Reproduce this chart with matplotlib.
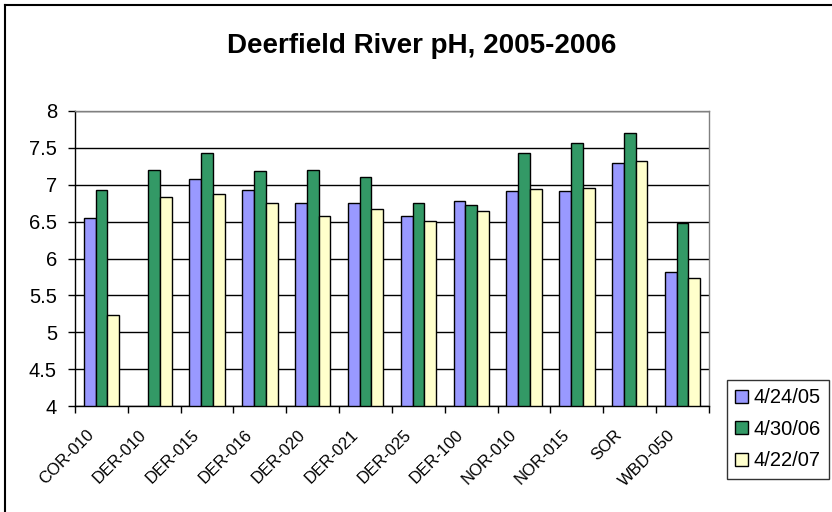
import numpy as np
import matplotlib
matplotlib.use("Agg")
import matplotlib.pyplot as plt
from matplotlib.lines import Line2D
from matplotlib.transforms import ScaledTranslation

plt.rcParams['font.family'] = ['Liberation Sans', 'DejaVu Sans']

title = "Deerfield River pH, 2005-2006"
sites = ["COR-010", "DER-010", "DER-015", "DER-016", "DER-020", "DER-021",
         "DER-025", "DER-100", "NOR-010", "NOR-015", "SOR", "WBD-050"]
series_names = ["4/24/05", "4/30/06", "4/22/07"]
ph_2005 = [6.55, np.nan, 7.08, 6.93, 6.75, 6.75, 6.58, 6.78, 6.91, 6.92, 7.30, 5.82]
ph_2006 = [6.93, 7.20, 7.43, 7.18, 7.20, 7.10, 6.75, 6.73, 7.43, 7.56, 7.70, 6.48]
ph_2007 = [5.23, 6.84, 6.87, 6.75, 6.58, 6.67, 6.51, 6.64, 6.94, 6.96, 7.32, 5.73]
yticks = [4, 4.5, 5, 5.5, 6, 6.5, 7, 7.5, 8]
ytick_labels = ["4", "4.5", "5", "5.5", "6", "6.5", "7", "7.5", "8"]
colors = ["#9999FF", "#339966", "#FFFFCC"]

W, H = 832, 512
fig = plt.figure(figsize=(W / 100, H / 100), dpi=100)
ax = fig.add_axes([75 / W, 1 - 406 / H, (709 - 75) / W, (406 - 111) / H])

n = len(sites)
x = np.arange(n)
bw = 1 / 4.5
data = [ph_2005, ph_2006, ph_2007]
for i, (vals, c, name) in enumerate(zip(data, colors, series_names)):
    v = np.array(vals, dtype=float)
    ax.bar(x + (i - 1) * bw, v - 4, bottom=4, width=bw, color=c,
           edgecolor="black", linewidth=1.0, label=name, zorder=3)

ax.set_xlim(-0.5, n - 0.5)
ax.set_ylim(4, 8)
ax.set_yticks(yticks)
ax.set_yticklabels(ytick_labels, fontsize=14.5)
ax.yaxis.grid(True, color="black", linewidth=1.0, zorder=0)
ax.set_axisbelow(True)

ax.set_xticks(np.arange(n + 1) - 0.5)
ax.set_xticklabels([])
ax.set_xticks(x, minor=True)
ax.set_xticklabels(sites, minor=True, rotation=45, ha="right", va="center",
                   rotation_mode="anchor", fontsize=12)
ax.tick_params(axis="x", which="minor", length=0, pad=19)
ax.tick_params(axis="x", which="major", direction="out", length=5, width=1)
ax.tick_params(axis="y", direction="out", length=5, width=1, pad=8)
shift = ScaledTranslation(-10 / 100, 0, fig.dpi_scale_trans)
for lbl in ax.get_xticklabels(minor=True):
    lbl.set_transform(lbl.get_transform() + shift)

for s in ["top", "right"]:
    ax.spines[s].set_color("#808080")
    ax.spines[s].set_linewidth(1.0)
for s in ["left", "bottom"]:
    ax.spines[s].set_color("black")
    ax.spines[s].set_linewidth(1.0)

fig.text(422 / W, 1 - 46 / H, title, ha="center", va="center",
         fontsize=20, fontweight="bold")

leg = fig.legend(loc="upper left", bbox_to_anchor=(727 / W, 1 - 380 / H),
                 bbox_transform=fig.transFigure, fontsize=14.5, frameon=True,
                 fancybox=False, borderaxespad=0, handlelength=0.6,
                 handleheight=0.6, handletextpad=0.3, labelspacing=0.62,
                 borderpad=0.42)
leg.get_frame().set_edgecolor("black")
leg.get_frame().set_linewidth(1.0)

# outer chart frame (top and left edges visible)
fig.add_artist(Line2D([5 / W, 5 / W], [-0.1, 1 - 5 / H], transform=fig.transFigure,
                      color="black", linewidth=1.5))
fig.add_artist(Line2D([5 / W, 1.1], [1 - 5 / H, 1 - 5 / H], transform=fig.transFigure,
                      color="black", linewidth=1.5))

fig.savefig("out.png", dpi=100)
